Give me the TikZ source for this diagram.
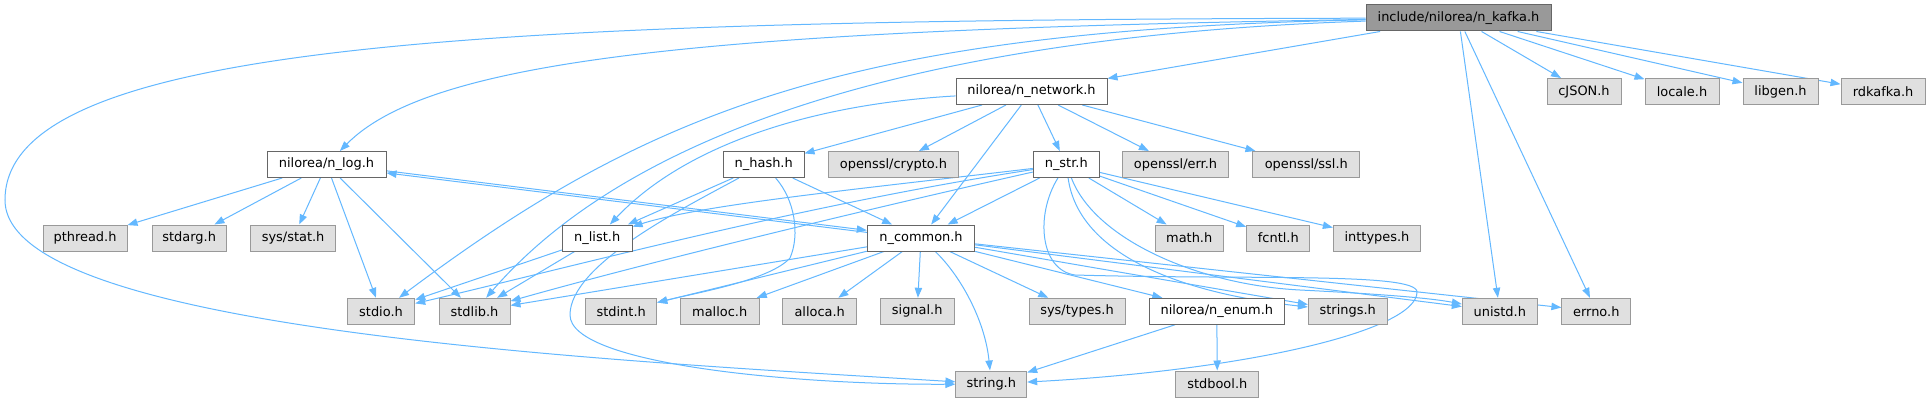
\documentclass[tikz,border=0pt]{standalone}
\usepackage{fontspec}
\setmainfont{DejaVu Sans}
\usetikzlibrary{arrows.meta,backgrounds}
\definecolor{edgec}{HTML}{63B8FF}
\definecolor{grayfill}{HTML}{E0E0E0}
\definecolor{grayline}{HTML}{999999}
\definecolor{darkline}{HTML}{666666}
\definecolor{topfill}{HTML}{999999}
\begin{document}
\begin{tikzpicture}[x=0.75pt,y=-0.75pt,
 box/.style={rectangle, inner sep=0pt, minimum height=19.5pt, line width=0.75pt, font=\fontsize{9.7}{11}\selectfont, text=black},
 sys/.style={box, draw=grayline, fill=grayfill},
 own/.style={box, draw=darkline, fill=white},
 mainbox/.style={box, draw=darkline, fill=topfill},
 bw/.style={minimum width=#1*0.75pt},
 dep/.style={draw=edgec, line width=0.75pt, -{Triangle[length=7.5pt,width=5.5pt]}}]
\useasboundingbox (0,0) rectangle (1929,403);
% nodes
\node[mainbox,bw=185] (K) at (1458.5,18) {include/nilorea/n\_kafka.h};
\node[own,bw=151] (N) at (1031.5,91.5) {nilorea/n\_network.h};
\node[sys,bw=74] (cjson) at (1584,91.5) {cJSON.h};
\node[sys,bw=74] (locale) at (1682,91.5) {locale.h};
\node[sys,bw=75] (libgen) at (1780.5,91.5) {libgen.h};
\node[sys,bw=84] (rdkafka) at (1883,91.5) {rdkafka.h};
\node[own,bw=119] (L) at (326.5,164.5) {nilorea/n\_log.h};
\node[own,bw=80.5] (H) at (763.75,164.5) {n\_hash.h};
\node[sys,bw=130] (crypto) at (893.4,164.5) {openssl/crypto.h};
\node[own,bw=66] (S) at (1066.25,164.5) {n\_str.h};
\node[sys,bw=105.6] (err) at (1175.5,164.5) {openssl/err.h};
\node[sys,bw=107.3] (ssl) at (1306.3,164.5) {openssl/ssl.h};
\node[sys,bw=84] (pthread) at (85,238) {pthread.h};
\node[sys,bw=74] (stdarg) at (189.2,238) {stdarg.h};
\node[sys,bw=85.4] (sysstat) at (293.1,238) {sys/stat.h};
\node[own,bw=69.7] (nlist) at (597.2,238) {n\_list.h};
\node[own,bw=107.4] (C) at (921,238) {n\_common.h};
\node[sys,bw=68.3] (math) at (1189.2,238) {math.h};
\node[sys,bw=63.3] (fcntl) at (1278.3,238) {fcntl.h};
\node[sys,bw=87.3] (inttypes) at (1377,238) {inttypes.h};
\node[sys,bw=67.4] (stdio) at (381,311.3) {stdio.h};
\node[sys,bw=71] (stdlib) at (474.5,311.3) {stdlib.h};
\node[sys,bw=71] (stdint) at (621.2,311.3) {stdint.h};
\node[sys,bw=79.3] (malloc) at (719.7,311.3) {malloc.h};
\node[sys,bw=74] (alloca) at (819.7,311.3) {alloca.h};
\node[sys,bw=73.7] (signal) at (917.2,311.3) {signal.h};
\node[sys,bw=96] (systypes) at (1077,311.3) {sys/types.h};
\node[own,bw=135] (E) at (1216.8,311.3) {nilorea/n\_enum.h};
\node[sys,bw=78.7] (strings) at (1347.7,311.3) {strings.h};
\node[sys,bw=75] (unistd) at (1499.8,311.3) {unistd.h};
\node[sys,bw=68.8] (errno) at (1596.3,311.3) {errno.h};
\node[sys,bw=70.7] (string) at (991.3,384) {string.h};
\node[sys,bw=83.3] (stdbool) at (1217.3,384) {stdbool.h};
\begin{pgfonlayer}{background}
\fill[white] (0,0) rectangle (1929,403);
% n_kafka.h
\draw[dep] (K) .. controls (500,20) and (5,40) .. (5,200) .. controls (5,330) and (600,360) .. (string);
\draw[dep] (K) .. controls (700,30) and (430,60) .. (L);
\draw[dep] (K) .. controls (850,30) and (650,110) .. (stdio);
\draw[dep] (K) .. controls (950,35) and (640,120) .. (stdlib);
\draw[dep] (K) -- (N);
\draw[dep] (K) -- (cjson);
\draw[dep] (K) -- (locale);
\draw[dep] (K) -- (libgen);
\draw[dep] (K) -- (rdkafka);
\draw[dep] (K) -- (unistd);
\draw[dep] (K) -- (errno);
% n_network.h
\draw[dep] (N) .. controls (800,105) and (680,150) .. (nlist);
\draw[dep] (N) -- (H);
\draw[dep] (N) -- (crypto);
\draw[dep] (N) -- (C);
\draw[dep] (N) -- (S);
\draw[dep] (N) -- (err);
\draw[dep] (N) -- (ssl);
% n_log.h
\draw[dep] (L) -- (pthread);
\draw[dep] (L) -- (stdarg);
\draw[dep] (L) -- (sysstat);
\draw[dep] (L) -- (stdio);
\draw[dep] (L) -- (stdlib);
\draw[dep, transform canvas={yshift=0.8pt}] (L) -- (C);
\draw[dep, transform canvas={yshift=-0.8pt}] (C) -- (L);
% n_hash.h
\draw[dep] (H) -- (nlist);
\draw[dep] (H) -- (C);
\draw[dep] (H) .. controls (680,210) and (570,265) .. (570,315) .. controls (570,365) and (800,385) .. (string);
\draw[dep] (H) .. controls (795,200) and (800,235) .. (790,258) .. controls (770,280) and (700,292) .. (stdint);
% n_str.h
\draw[dep] (S) .. controls (850,190) and (700,205) .. (nlist);
\draw[dep] (S) .. controls (800,205) and (560,270) .. (stdio);
\draw[dep] (S) .. controls (820,220) and (620,270) .. (stdlib);
\draw[dep] (S) -- (C);
\draw[dep] (S) .. controls (1035,215) and (1040,270) .. (1075,275) .. controls (1250,280) and (1417,272) .. (1417,292) .. controls (1417,330) and (1250,370) .. (string);
\draw[dep] (S) -- (math);
\draw[dep] (S) -- (fcntl);
\draw[dep] (S) -- (inttypes);
\draw[dep] (S) .. controls (1078,250) and (1170,292) .. (strings);
\draw[dep] (S) .. controls (1095,240) and (1200,285) .. (1300,290) .. controls (1380,294) and (1430,298) .. (unistd);
% n_list.h
\draw[dep] (nlist) -- (stdio);
\draw[dep] (nlist) -- (stdlib);
% n_common.h
\draw[dep] (C) -- (stdlib);
\draw[dep] (C) -- (stdint);
\draw[dep] (C) -- (malloc);
\draw[dep] (C) -- (alloca);
\draw[dep] (C) -- (signal);
\draw[dep] (C) .. controls (960,275) and (985,320) .. (string);
\draw[dep] (C) -- (systypes);
\draw[dep] (C) -- (E);
\draw[dep] (C) -- (strings);
\draw[dep] (C) -- (unistd);
\draw[dep] (C) -- (errno);
% n_enum.h
\draw[dep] (E) -- (string);
\draw[dep] (E) -- (stdbool);
\end{pgfonlayer}
\end{tikzpicture}
\end{document}
